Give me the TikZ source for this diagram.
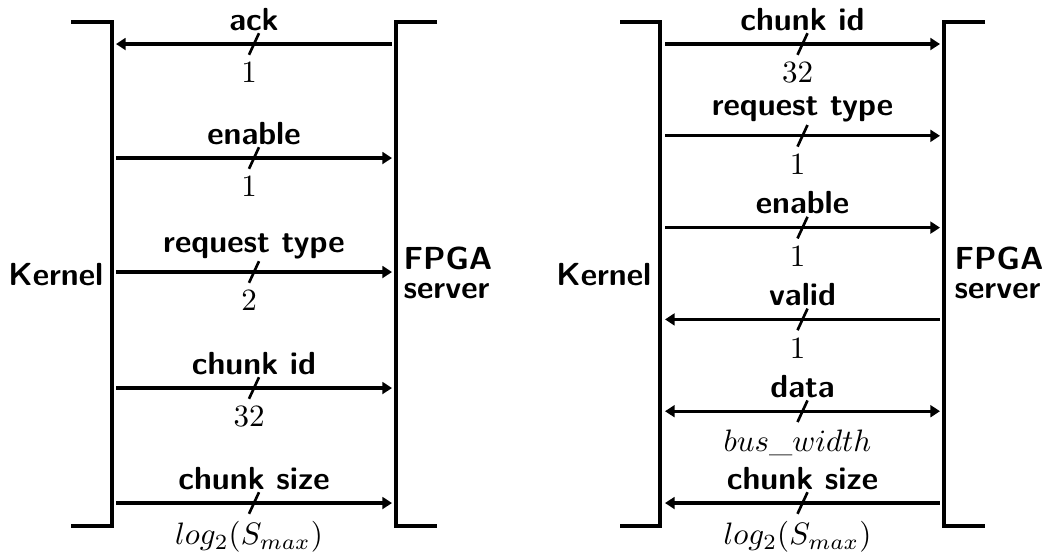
\documentclass[tikz,border=0pt]{standalone}
\usetikzlibrary{arrows.meta}
\begin{document}
\begin{tikzpicture}[x=0.3226pt, y=-0.3226pt,
  bracket/.style={line width=1pt},
  sig/.style={line width=1pt, >={Triangle[length=3.1pt,width=3.8pt]}},
  lbl/.style={font={\sffamily\bfseries\fontsize{10.3}{12}\selectfont}, inner sep=0pt, anchor=south},
  num/.style={inner sep=0pt, anchor=north},
  slash/.style={line width=0.85pt},
  side/.style={font={\sffamily\bfseries\fontsize{10.3}{12}\selectfont}, inner sep=0pt}]
\useasboundingbox (0,0) rectangle (1042,556);

% ---------- left diagram ----------
\draw[bracket] (71,22) -- (112,22) -- (112,526) -- (71,526);
\draw[bracket] (437,22) -- (396,22) -- (396,526) -- (437,526);
\node[side, anchor=base east] (k1) at (104,285) {Kernel};
\node[side, anchor=base west] (f1) at (403,269) {FPGA};
\node[side, anchor=base west] (s1) at (403,298.5) {server};

% signal macro: #1 left x, #2 right x, #3 y, #4 name, #5 dir, #6 label, #7 width
\newcommand\sigline[7]{%
  \coordinate (#4a) at (#1,#3);
  \coordinate (#4b) at (#2,#3);
  \coordinate (#4s) at ({(#1+#2)/2+5},#3-10.8);
  \coordinate (#4e) at ({(#1+#2)/2-5},#3+10.8);
  \draw[sig, #5] (#4a) -- (#4b);
  \node[lbl] (#4l) at ({(#1+#2)/2},#3-12.7) {#6};
  \draw[slash] (#4s) -- (#4e);
  \node[num] (#4n) at ({(#1+#2)/2-5},#3+18) {#7};
}

\sigline{116}{392}{44}{pA}{<-}{ack}{$1$}
\sigline{116}{392}{158}{pB}{->}{enable}{$1$}
\sigline{116}{392}{272}{pC}{->}{request type}{$2$}
\sigline{116}{392}{388}{pD}{->}{chunk id}{$32$}
\sigline{116}{392}{503}{pE}{->}{chunk size}{$log_2(S_{max})$}

% ---------- right diagram ----------
\draw[bracket] (620,22) -- (660,22) -- (660,526) -- (620,526);
\draw[bracket] (985,22) -- (944,22) -- (944,526) -- (985,526);
\node[side, anchor=base east] (k2) at (652,285) {Kernel};
\node[side, anchor=base west] (f2) at (954,269) {FPGA};
\node[side, anchor=base west] (s2) at (954,298.5) {server};

\sigline{665}{940}{44}{qA}{->}{chunk id}{$32$}
\sigline{665}{940}{135.8}{qB}{->}{request type}{$1$}
\sigline{665}{940}{227.6}{qC}{->}{enable}{$1$}
\sigline{665}{940}{319.4}{qD}{<-}{valid}{$1$}
\sigline{665}{940}{411.2}{qE}{<->}{data}{$bus\_width$}
\sigline{665}{940}{503}{qF}{<-}{chunk size}{$log_2(S_{max})$}
\end{tikzpicture}
\end{document}
